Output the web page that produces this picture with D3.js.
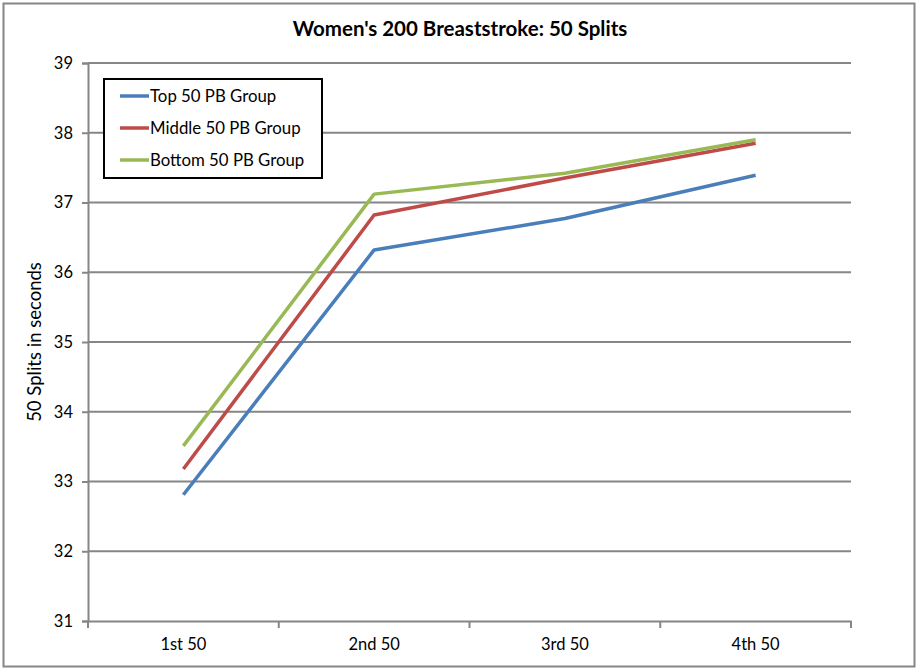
<!DOCTYPE html>
<html><head><meta charset="utf-8">
<script src="https://cdn.jsdelivr.net/npm/d3@7"></script>
<style>body{margin:0;background:#fff;} svg{display:block;}</style>
</head><body>
<script>
const categories = ["1st 50", "2nd 50", "3rd 50", "4th 50"];
const topGroup = [32.81, 36.32, 36.77, 37.39];
const middleGroup = [33.18, 36.82, 37.35, 37.85];
const bottomGroup = [33.51, 37.12, 37.42, 37.90];
const seriesNames = ["Top 50 PB Group", "Middle 50 PB Group", "Bottom 50 PB Group"];
const seriesColors = ["#4A7EBB", "#BE4B48", "#98B954"];
const yTicks = [31, 32, 33, 34, 35, 36, 37, 38, 39];
const series = [topGroup, middleGroup, bottomGroup];

(function () {
const W = 920, H = 671;
const font = "Lato, 'Open Sans', sans-serif";
const svg = d3.select("body").append("svg").attr("width", W).attr("height", H);
svg.append("rect").attr("x", 3.5).attr("y", 3.5).attr("width", 911).attr("height", 663)
  .attr("fill", "#fff").attr("stroke", "#868686").attr("stroke-width", 2);

const mLeft = 88, mRight = 851, mTop = 63, mBottom = 621;
const x = d3.scaleBand().domain(categories).range([mLeft, mRight]);
const y = d3.scaleLinear().domain([31, 39]).range([mBottom, mTop]);

svg.append("g").selectAll("line").data(yTicks.slice(1)).join("line")
  .attr("x1", mLeft).attr("x2", mRight).attr("y1", d => y(d)).attr("y2", d => y(d))
  .attr("stroke", "#868686").attr("stroke-width", 2);

const yAxis = svg.append("g").attr("transform", `translate(${mLeft},0)`)
  .call(d3.axisLeft(y).tickValues(yTicks).tickSize(6).tickPadding(9).tickFormat(d3.format("d")));
yAxis.select(".domain").attr("stroke", "#868686").attr("stroke-width", 2);
yAxis.selectAll(".tick line").attr("stroke", "#868686").attr("stroke-width", 2);
yAxis.selectAll(".tick text").attr("font-family", font).attr("font-size", 16.5).attr("fill", "#000");

const xAxis = svg.append("g").attr("transform", `translate(0,${mBottom})`)
  .call(d3.axisBottom(x).tickSize(0).tickPadding(17));
xAxis.select(".domain").attr("stroke", "#868686").attr("stroke-width", 2);
xAxis.selectAll(".tick text").attr("font-family", font).attr("font-size", 16.5).attr("fill", "#000");
const bounds = categories.map(c => x(c)).concat([x(categories[categories.length - 1]) + x.bandwidth()]);
xAxis.append("g").selectAll("line").data(bounds).join("line")
  .attr("x1", d => d).attr("x2", d => d).attr("y1", 0).attr("y2", 7)
  .attr("stroke", "#868686").attr("stroke-width", 2);

const line = d3.line().x((d, i) => x(categories[i]) + x.bandwidth() / 2).y(d => y(d));
series.forEach((s, i) => {
  svg.append("path").datum(s).attr("d", line).attr("fill", "none")
    .attr("stroke", seriesColors[i]).attr("stroke-width", 3.5).attr("stroke-linejoin", "round");
});

svg.append("text").attr("x", 460).attr("y", 36).attr("text-anchor", "middle")
  .attr("font-family", font).attr("font-weight", "bold").attr("font-size", 20.5)
  .text("Women's 200 Breaststroke: 50 Splits");

svg.append("text").attr("transform", `translate(41,342) rotate(-90)`).attr("text-anchor", "middle")
  .attr("font-family", font).attr("font-size", 18.5).text("50 Splits in seconds");

const lg = svg.append("g");
lg.append("rect").attr("x", 104).attr("y", 79).attr("width", 218).attr("height", 99)
  .attr("fill", "#fff").attr("stroke", "#000").attr("stroke-width", 2);
seriesNames.forEach((n, i) => {
  const yy = 96 + i * 32;
  lg.append("line").attr("x1", 120).attr("x2", 149).attr("y1", yy).attr("y2", yy)
    .attr("stroke", seriesColors[i]).attr("stroke-width", 3.5);
  lg.append("text").attr("x", 150).attr("y", yy + 6).attr("font-family", font).attr("font-size", 16.8)
    .text(n);
});
})();
</script>
</body></html>
